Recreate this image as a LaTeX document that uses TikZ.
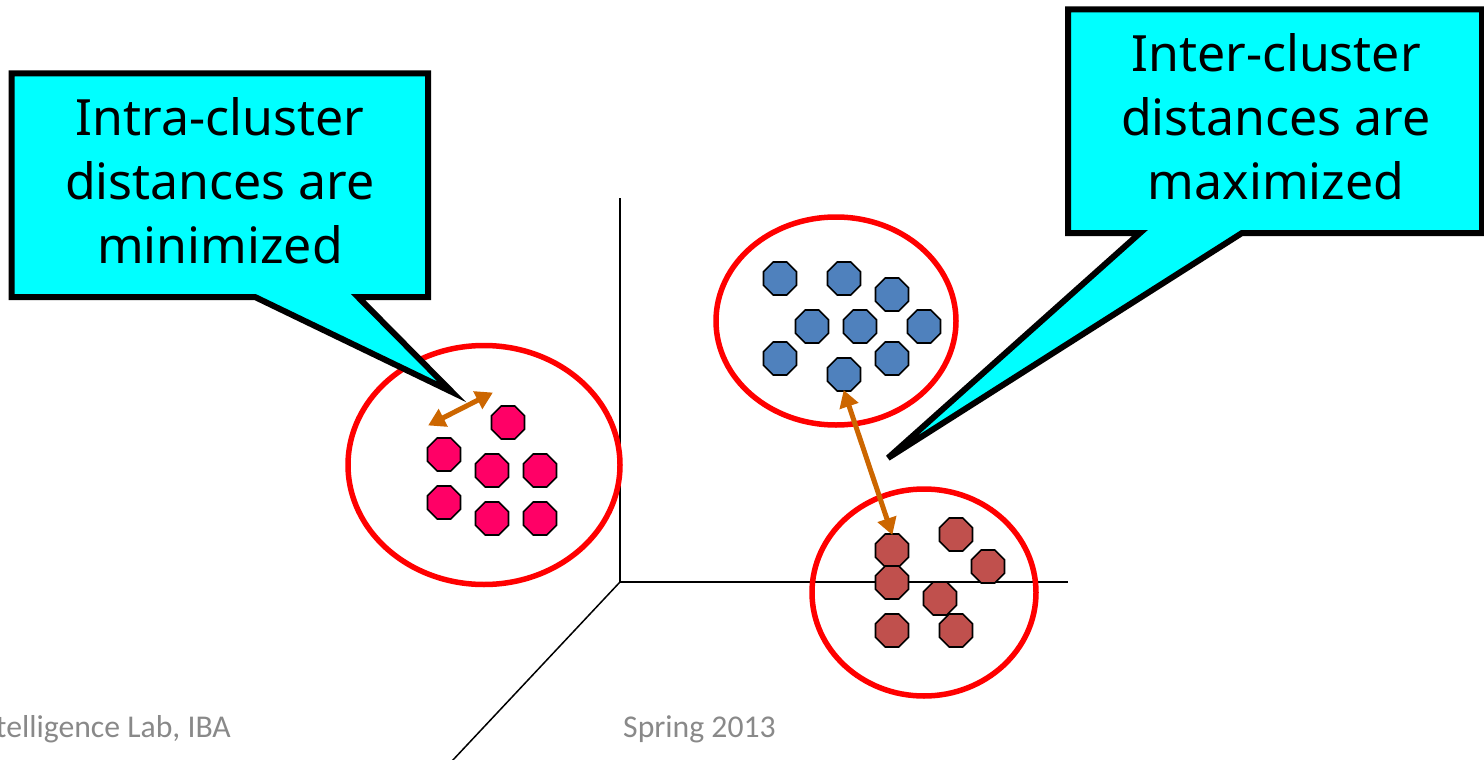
\documentclass[tikz,border=0pt]{standalone}
\usepackage{fontspec}
\setmainfont{Noto Sans}
\newfontfamily\footfont{Carlito}
\usetikzlibrary{shapes.geometric,arrows.meta}
\definecolor{pinkdot}{RGB}{255,0,102}
\definecolor{bluedot}{RGB}{79,129,189}
\definecolor{reddot}{RGB}{192,80,77}
\definecolor{orangearrow}{RGB}{204,102,0}
\definecolor{footgrey}{RGB}{137,137,137}
\definecolor{calloutfill}{RGB}{0,255,255}
\definecolor{ringred}{RGB}{255,0,0}
\tikzset{
  dot/.style={regular polygon,regular polygon sides=8,draw=black,line width=1.7pt,minimum size=35.6pt,inner sep=0pt,outer sep=0pt},
  pinkd/.style={dot,fill=pinkdot},
  blued/.style={dot,fill=bluedot},
  redd/.style={dot,fill=reddot},
  ring/.style={draw=ringred,line width=5.5pt,ellipse,inner sep=0pt},
  axis/.style={draw=black,line width=1.5pt},
  dist/.style={draw=orangearrow,line width=5pt,{Triangle[length=17pt,width=19pt]}-{Triangle[length=17pt,width=19pt]},shorten <=-1pt,shorten >=-1pt},
  callout/.style={draw=black,fill=calloutfill,line width=6pt,line join=miter,miter limit=9},
  calltext/.style={align=center,font=\fontsize{50}{64}\selectfont,inner sep=0pt,text=black},
  foot/.style={font=\footfont\fontsize{31.7}{36}\selectfont,text=footgrey,inner sep=0pt}
}
\begin{document}
\begin{tikzpicture}[x=1pt,y=-1pt]
\useasboundingbox (0,0) rectangle (1484,760);
% axes
\coordinate (origin) at (620,582);
\coordinate (axtop) at (620,198);
\coordinate (axright) at (1068,582);
\coordinate (axdiag) at (452,761);
\draw[axis] (axtop) -- (origin) -- (axright);
\draw[axis] (origin) -- (axdiag);
% rings
\node[ring,minimum width=272pt,minimum height=239pt] (ringa) at (484,465) {};
\node[ring,minimum width=240pt,minimum height=208pt] (ringb) at (836,321) {};
\node[ring,minimum width=224pt,minimum height=207pt] (ringc) at (924,592.5) {};
% pink
\node[pinkd] (p1) at (508,422.5) {};
\node[pinkd] (p2) at (444,454.5) {};
\node[pinkd] (p3) at (492,470.5) {};
\node[pinkd] (p4) at (540,470.5) {};
\node[pinkd] (p5) at (444,502.5) {};
\node[pinkd] (p6) at (492,518.5) {};
\node[pinkd] (p7) at (540,518.5) {};
% blue
\node[blued] (b1) at (780,278.5) {};
\node[blued] (b2) at (844,278.5) {};
\node[blued] (b3) at (892,294.5) {};
\node[blued] (b4) at (812,326.5) {};
\node[blued] (b5) at (860,326.5) {};
\node[blued] (b6) at (924,326.5) {};
\node[blued] (b7) at (780,358.5) {};
\node[blued] (b8) at (892,358.5) {};
\node[blued] (b9) at (844,374.5) {};
% red
\node[redd] (r1) at (892,550.5) {};
\node[redd] (r2) at (892,582.5) {};
\node[redd] (r3) at (956,534.5) {};
\node[redd] (r4) at (988,566.5) {};
\node[redd] (r5) at (940,598.5) {};
\node[redd] (r6) at (956,630.5) {};
\node[redd] (r7) at (892,630.5) {};
% distance arrows
\coordinate (da) at (429,425);
\coordinate (db) at (492,393);
\draw[dist] (da) -- (db);
\draw[dist] (b9.south) -- (r1.north);
% callouts
\coordinate (tipa) at (452,392);
\coordinate (tipb) at (888,458);
\draw[callout] (11.5,73.5) -- (428,73.5) -- (428,297) -- (358,297) -- (tipa) -- (255,297) -- (11.5,297) -- cycle;
\draw[callout] (1068,9.5) -- (1482,9.5) -- (1482,233) -- (1242,233) -- (tipb) -- (1140,233) -- (1068,233) -- cycle;
\node[calltext] (ta) at (220,181) {Intra-cluster\\distances are\\minimized};
\node[calltext] (tb) at (1276,117) {Inter-cluster\\distances are\\maximized};
% footer
\node[foot,anchor=base east] (f1) at (231,737) {telligence Lab, IBA};
\node[foot,anchor=base west] (f2) at (623,737) {Spring 2013};
\end{tikzpicture}
\end{document}
